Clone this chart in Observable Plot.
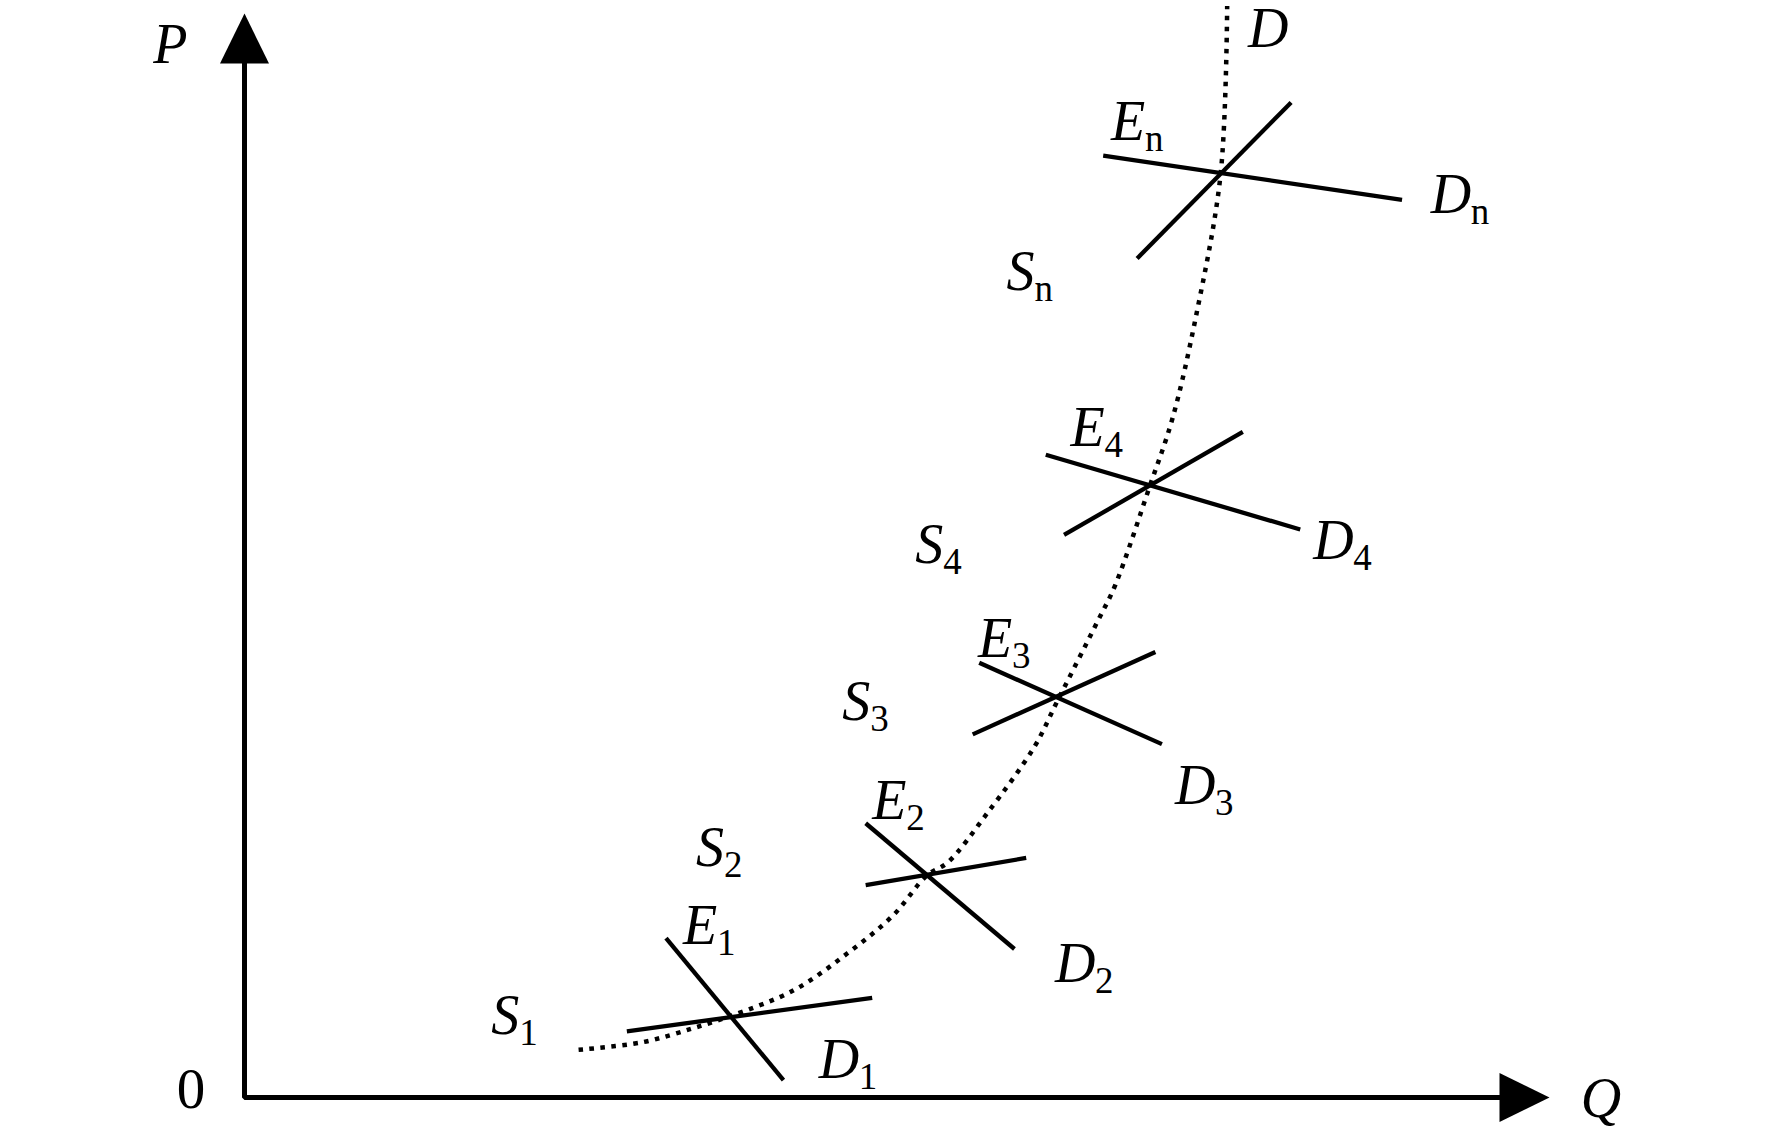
<!DOCTYPE html>
<html>
<head>
<meta charset="utf-8">
<script src="https://cdn.jsdelivr.net/npm/d3@7"></script>
<script src="https://cdn.jsdelivr.net/npm/@observablehq/plot@0.6"></script>
<style>
  html, body { margin: 0; padding: 0; background: #fff; }
  svg { display: block; }
</style>
</head>
<body>
<div id="chart"></div>
<script>
// Schematic units: origin (0,0), axes run to 100 on each scale.

// Long-run demand path D (dotted), from low left to top
const pathQ = [25.6, 30.5, 34.4, 37.2, 42.1, 46.2, 49.7, 52.3, 53.9, 56.9, 60.5, 62.3, 65.4, 66.7, 69.4, 71.1, 72.9, 74.8, 75.3];
const pathP = [4.4, 5.1, 6.4, 7.5, 9.9, 13.3, 16.8, 20.5, 21.7, 26.2, 32.3, 36.6, 44.0, 47.2, 56.5, 62.6, 72.0, 85.2, 100.7];

// Short-run supply segments S1, S2, S3, S4, Sn
const supplyNames = ["S1", "S2", "S3", "S4", "Sn"];
const supplyQ1 = [29.3, 47.6, 55.8, 62.8, 68.4];
const supplyP1 = [6.1, 19.6, 33.5, 51.9, 77.4];
const supplyQ2 = [48.1, 59.9, 69.8, 76.5, 80.2];
const supplyP2 = [9.2, 22.1, 41.1, 61.4, 91.8];

// Short-run demand segments D1, D2, D3, D4, Dn
const demandNames = ["D1", "D2", "D3", "D4", "Dn"];
const demandQ1 = [32.3, 47.6, 56.3, 61.4, 65.8];
const demandP1 = [14.7, 25.3, 40.1, 59.3, 86.9];
const demandQ2 = [41.3, 59.0, 70.3, 80.9, 88.7];
const demandP2 = [1.6, 13.7, 32.6, 52.4, 82.8];

// Axes
const axisQ = [0, 0, 97];
const axisP = [96, 0, 0];
const arrowQ = [0, 100];
const arrowP = [100, 0];
const arrowRotate = [0, 90];

// Labels: main letter (italic) + subscript
const labelMain = ["P", "Q", "D", "E", "D", "S", "E", "D", "S", "E", "S", "D", "E", "S", "D", "E", "D", "S"];
const labelSub  = ["", "", "", "n", "n", "n", "4", "4", "4", "3", "3", "3", "2", "2", "2", "1", "1", "1"];
const labelQ    = [-7.0, 102.4, 76.9, 66.4, 90.9, 58.4, 63.3, 81.9, 51.4, 56.2, 45.8, 71.3, 48.1, 34.6, 62.1, 33.6, 44.0, 18.9];
const labelP    = [95.4, -1.8, 96.9, 88.3, 81.6, 74.5, 60.1, 49.7, 49.3, 40.6, 34.8, 27.1, 25.7, 21.4, 10.7, 14.2, 1.8, 5.9];

const originLabel = ["0"];
const originQ = [-5.2];
const originP = [-1.0];

// ---- build tables ----
const path = pathQ.map((q, i) => ({q, p: pathP[i]}));
const supply = supplyNames.map((n, i) => ({n, q1: supplyQ1[i], p1: supplyP1[i], q2: supplyQ2[i], p2: supplyP2[i]}));
const demand = demandNames.map((n, i) => ({n, q1: demandQ1[i], p1: demandP1[i], q2: demandQ2[i], p2: demandP2[i]}));
const axis = axisQ.map((q, i) => ({q, p: axisP[i]}));
const arrows = arrowQ.map((q, i) => ({q, p: arrowP[i], r: arrowRotate[i]}));
const labels = labelMain.map((m, i) => ({m, s: labelSub[i], q: labelQ[i], p: labelP[i]}));
const origin = originLabel.map((t, i) => ({t, q: originQ[i], p: originP[i]}));

// filled arrowhead: tip at the anchor point, body extending downward
const arrowHead = {
  draw(ctx, size) {
    const r = Math.sqrt(size / Math.PI);
    ctx.moveTo(0, 0);
    ctx.lineTo(0.98 * r, 2 * r);
    ctx.lineTo(-0.98 * r, 2 * r);
    ctx.closePath();
  }
};

const serif = "'Liberation Serif', 'Times New Roman', serif";
const mainFont = {fontFamily: serif, fontStyle: "italic", fontSize: 56};
const subFont = {fontFamily: serif, fontSize: 37};
const advance = {S: 28, E: 34, D: 40};

const subMarks = ["S", "E", "D"].map(letter =>
  Plot.text(labels.filter(d => d.m === letter && d.s), {
    x: "q", y: "p", text: "s", textAnchor: "start", lineAnchor: "bottom",
    dx: advance[letter], dy: 11, fill: "black", ...subFont
  })
);

const chart = Plot.plot({
  width: 1772,
  height: 1130,
  marginLeft: 244,
  marginRight: 223,
  marginTop: 13,
  marginBottom: 33,
  x: {domain: [0, 100], axis: null},
  y: {domain: [0, 100], axis: null},
  style: {background: "white", overflow: "visible"},
  marks: [
    Plot.line(axis, {x: "q", y: "p", stroke: "black", strokeWidth: 5, strokeLinejoin: "miter", strokeLinecap: "butt"}),
    Plot.dot(arrows, {x: "q", y: "p", rotate: "r", r: 25, symbol: arrowHead, fill: "black", stroke: "none"}),
    Plot.line(path, {x: "q", y: "p", curve: "catmull-rom", stroke: "black", strokeWidth: 4.5, strokeDasharray: "4.5,6.5", strokeLinecap: "butt"}),
    Plot.link(supply, {x1: "q1", y1: "p1", x2: "q2", y2: "p2", stroke: "black", strokeWidth: 4.3}),
    Plot.link(demand, {x1: "q1", y1: "p1", x2: "q2", y2: "p2", stroke: "black", strokeWidth: 4.3}),
    Plot.text(labels, {x: "q", y: "p", text: "m", textAnchor: "start", lineAnchor: "bottom", fill: "black", ...mainFont}),
    ...subMarks,
    Plot.text(origin, {x: "q", y: "p", text: "t", textAnchor: "start", lineAnchor: "bottom", fill: "black", fontFamily: serif, fontSize: 57})
  ]
});
document.getElementById("chart").appendChild(chart);
</script>
</body>
</html>
